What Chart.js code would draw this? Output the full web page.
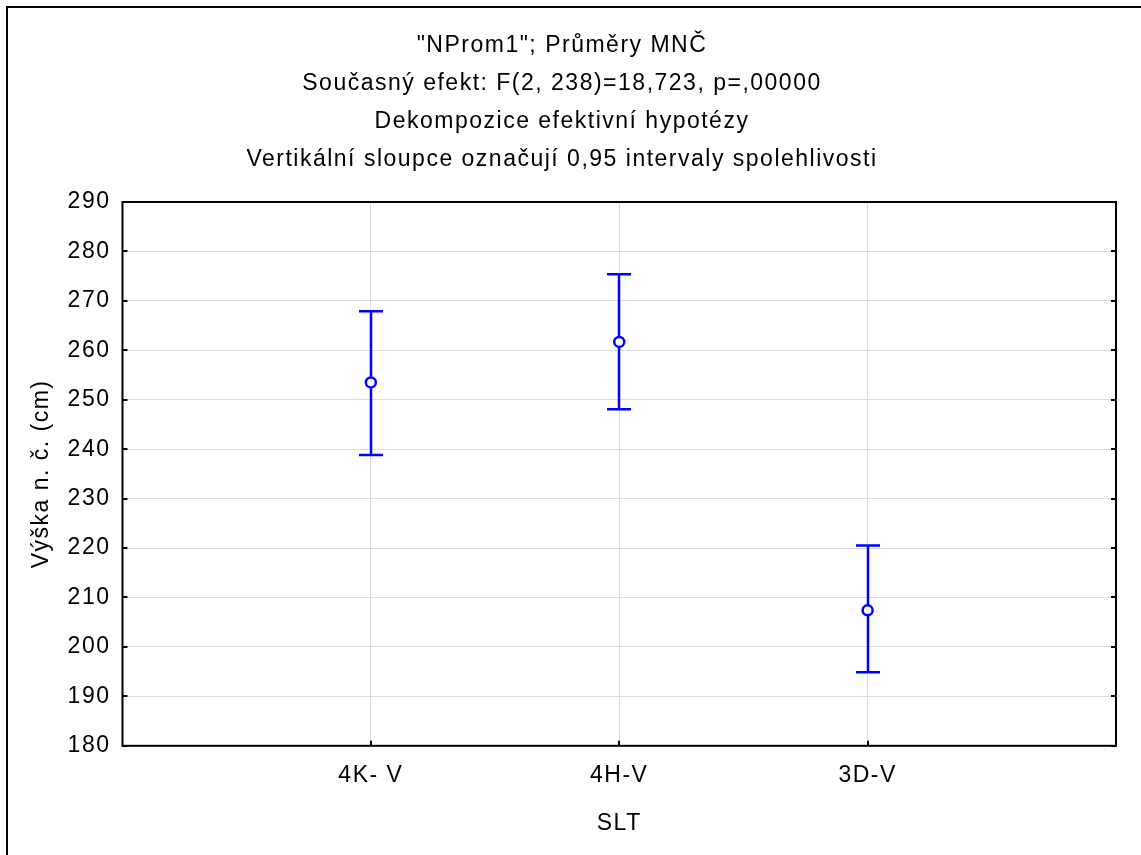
<!DOCTYPE html>
<html>
<head>
<meta charset="utf-8">
<script src="https://cdn.jsdelivr.net/npm/chart.js@4.4.1/dist/chart.umd.min.js"></script>
<style>
  html, body { margin: 0; padding: 0; background: #fff; }
  #wrap { width: 1141px; height: 855px; position: relative; }
</style>
</head>
<body>
<div id="wrap"><canvas id="chart"></canvas></div>
<script>
const categories = ['4K- V', '4H-V', '3D-V'];
const means = [253.5, 261.7, 207.4];
const upperCI = [267.9, 275.4, 220.5];
const lowerCI = [238.8, 248.1, 194.9];
const titleLines = [
  '"NProm1"; Průměry MNČ',
  'Současný efekt: F(2, 238)=18,723, p=,00000',
  'Dekompozice efektivní hypotézy',
  'Vertikální sloupce označují 0,95 intervaly spolehlivosti'
];
const yTitle = 'Výška n. č. (cm)';
const xTitle = 'SLT';

const FONT = 'Liberation Sans, Arial, sans-serif';
const SIZE = 23;
const BLUE = '#0000ff';

// slightly wider text spacing, like the original statistics package output
const spacing = {
  id: 'spacing',
  beforeLayout(chart) { chart.ctx.letterSpacing = '1.5px'; },
  beforeDraw(chart) { chart.ctx.letterSpacing = '1.5px'; }
};

// page frame, plot box and inner ticks
const frame = {
  id: 'frame',
  beforeDraw(chart) {
    const ctx = chart.ctx;
    ctx.save();
    ctx.fillStyle = '#fff';
    ctx.fillRect(0, 0, chart.width, chart.height);
    ctx.fillStyle = '#000';
    ctx.fillRect(6, 6, chart.width, 2);
    ctx.fillRect(6, 6, 2, chart.height);
    ctx.restore();
  },
  afterDraw(chart) {
    const ctx = chart.ctx;
    const a = chart.chartArea;
    const x = chart.scales.x, y = chart.scales.y;
    ctx.save();
    ctx.strokeStyle = '#000';
    ctx.lineWidth = 2;
    ctx.beginPath();
    y.ticks.forEach(t => {
      const py = Math.round(y.getPixelForValue(t.value));
      ctx.moveTo(a.left, py); ctx.lineTo(a.left + 5, py);
      ctx.moveTo(a.right, py); ctx.lineTo(a.right - 5, py);
    });
    categories.forEach((c, i) => {
      const px = Math.round(x.getPixelForValue(i + 1));
      ctx.moveTo(px, a.bottom); ctx.lineTo(px, a.bottom - 5);
    });
    ctx.stroke();
    ctx.strokeRect(a.left, a.top, a.right - a.left, a.bottom - a.top);
    ctx.restore();
  }
};

// confidence interval whiskers
const whiskers = {
  id: 'whiskers',
  beforeDatasetsDraw(chart) {
    const ctx = chart.ctx;
    const x = chart.scales.x, y = chart.scales.y;
    ctx.save();
    ctx.strokeStyle = BLUE;
    ctx.lineWidth = 2.5;
    ctx.beginPath();
    categories.forEach((c, i) => {
      const px = Math.round(x.getPixelForValue(i + 1));
      const top = y.getPixelForValue(upperCI[i]);
      const bot = y.getPixelForValue(lowerCI[i]);
      ctx.moveTo(px, top); ctx.lineTo(px, bot);
      ctx.moveTo(px - 12, top); ctx.lineTo(px + 12, top);
      ctx.moveTo(px - 12, bot); ctx.lineTo(px + 12, bot);
    });
    ctx.stroke();
    ctx.restore();
  }
};

new Chart(document.getElementById('chart'), {
  type: 'scatter',
  data: {
    datasets: [{
      data: means.map((m, i) => ({ x: i + 1, y: m })),
      pointStyle: 'circle',
      pointRadius: 5,
      pointBorderWidth: 2.5,
      pointBorderColor: BLUE,
      pointBackgroundColor: '#fff',
      showLine: false
    }]
  },
  options: {
    responsive: true,
    maintainAspectRatio: false,
    animation: false,
    layout: { padding: { left: 8, right: 25, top: 0, bottom: 0 } },
    plugins: {
      legend: { display: false },
      tooltip: { enabled: false },
      title: {
        display: true,
        text: titleLines,
        color: '#000',
        font: { family: FONT, size: SIZE, weight: 'normal', lineHeight: 38 / SIZE },
        padding: { top: 27, bottom: 23 }
      }
    },
    scales: {
      x: {
        type: 'linear',
        min: 0,
        max: 4,
        border: { display: false },
        grid: { color: '#dcdcdc', lineWidth: 1, drawTicks: false },
        ticks: {
          stepSize: 1,
          padding: 16,
          color: '#000',
          font: { family: FONT, size: SIZE },
          callback: v => categories[v - 1] || ''
        },
        title: {
          display: true,
          text: xTitle,
          color: '#000',
          font: { family: FONT, size: SIZE },
          padding: { top: 4, bottom: 18 }
        }
      },
      y: {
        min: 180,
        max: 290,
        border: { display: false },
        grid: { color: '#dcdcdc', lineWidth: 1, drawTicks: false },
        ticks: {
          stepSize: 10,
          padding: 12,
          color: '#000',
          font: { family: FONT, size: SIZE }
        },
        title: {
          display: true,
          text: yTitle,
          color: '#000',
          font: { family: FONT, size: SIZE },
          padding: { top: 20, bottom: 0 }
        }
      }
    }
  },
  plugins: [spacing, frame, whiskers]
});
</script>
</body>
</html>
